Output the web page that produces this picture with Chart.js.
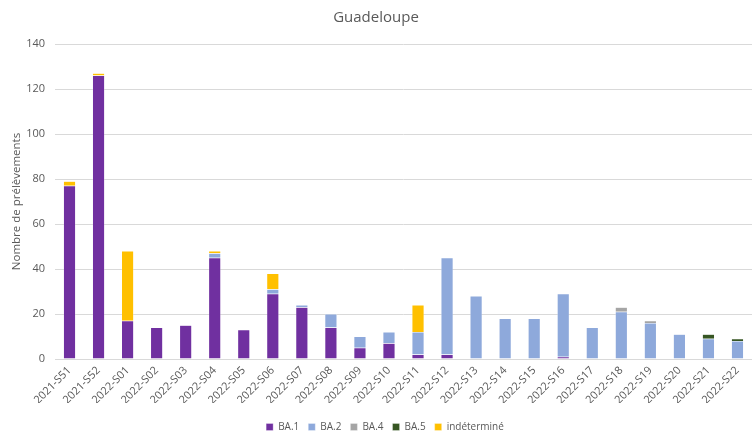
<!DOCTYPE html>
<html>
<head>
<meta charset="utf-8">
<script src="https://cdn.jsdelivr.net/npm/chart.js@4/dist/chart.umd.min.js"></script>
<style>
html,body{margin:0;padding:0;background:#fff;}
#wrap{width:752px;height:432px;position:relative;}
</style>
</head>
<body>
<div id="wrap"><canvas id="c" width="752" height="432"></canvas></div>
<script>
const categories = ["2021-S51","2021-S52","2022-S01","2022-S02","2022-S03","2022-S04","2022-S05","2022-S06","2022-S07","2022-S08","2022-S09","2022-S10","2022-S11","2022-S12","2022-S13","2022-S14","2022-S15","2022-S16","2022-S17","2022-S18","2022-S19","2022-S20","2022-S21","2022-S22"];
const ba1 = [77,126,17,14,15,45,13,29,23,14,5,7,2,2,0,0,0,1,0,0,0,0,0,0];
const ba2 = [0,0,0,0,0,2,0,2,1,6,5,5,10,43,28,18,18,28,14,21,16,11,9,8];
const ba4 = [0,0,0,0,0,0,0,0,0,0,0,0,0,0,0,0,0,0,0,2,1,0,0,0];
const ba5 = [0,0,0,0,0,0,0,0,0,0,0,0,0,0,0,0,0,0,0,0,0,0,2,1];
const indet = [2,1,31,0,0,1,0,7,0,0,0,0,12,0,0,0,0,0,0,0,0,0,0,0];
const yTicks = [0,20,40,60,80,100,120,140];

const grey = '#595959';
function ds(label, data, color){
  return {label, data, backgroundColor: color, borderColor: 'rgba(255,255,255,0.6)', borderWidth: 0.5, categoryPercentage: 1, barPercentage: 0.42};
}
const shiftLegend = {
  id: 'shiftLegend',
  afterLayout(chart){
    const l = chart.legend;
    if (l) { l.top += 10; l.bottom += 10; l.left += 9; l.right += 9; }
  }
};
new Chart(document.getElementById('c'), {
  type: 'bar',
  data: {
    labels: categories,
    datasets: [
      ds('BA.1', ba1, '#7030A0'),
      ds('BA.2', ba2, '#8EA9DB'),
      ds('BA.4', ba4, '#A5A5A5'),
      ds('BA.5', ba5, '#375623'),
      ds('indéterminé', indet, '#FFC000')
    ]
  },
  plugins: [shiftLegend],
  options: {
    responsive: false,
    animation: false,
    layout: {padding: {top: 2, right: 0, bottom: 0, left: 0}},
    plugins: {
      title: {display: true, text: 'Guadeloupe', color: grey, font: {family: 'Open Sans', size: 15, weight: 'normal', lineHeight: 1.2}, padding: {top: 7, bottom: 17}},
      legend: {position: 'bottom', labels: {boxWidth: 7, boxHeight: 7, color: grey, font: {family: 'Open Sans', size: 10}, padding: 9}},
      tooltip: {enabled: false}
    },
    scales: {
      x: {
        stacked: true,
        grid: {display: false, drawTicks: false},
        border: {color: '#d9d9d9'},
        ticks: {color: grey, font: {family: 'Open Sans', size: 11}, maxRotation: 45, minRotation: 45, autoSkip: false, padding: 5},
        afterFit: (s) => { s.height = 44; }
      },
      y: {
        stacked: true,
        min: 0, max: 140,
        afterBuildTicks: (s) => { s.ticks = yTicks.map(v => ({value: v})); },
        grid: {color: '#d9d9d9', drawTicks: false},
        border: {display: false},
        ticks: {color: grey, font: {family: 'Open Sans', size: 11}, padding: 10},
        title: {display: true, text: 'Nombre de prélèvements', color: grey, font: {family: 'Open Sans', size: 11.5}, padding: {top: 10, bottom: 4}},
        afterFit: (s) => { s.width = 55; }
      }
    }
  }
});
</script>
</body>
</html>
